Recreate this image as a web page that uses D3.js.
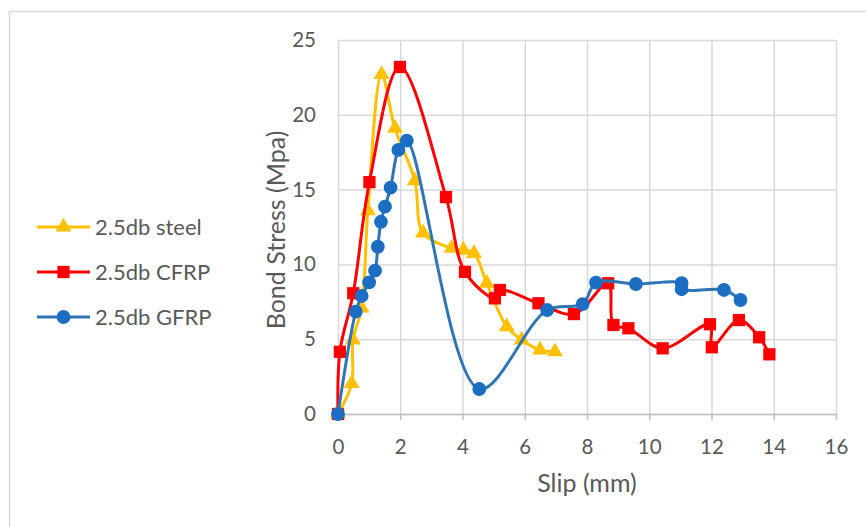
<!DOCTYPE html>
<html>
<head>
<meta charset="utf-8">
<script src="https://cdn.jsdelivr.net/npm/d3@7"></script>
<style>
  body { margin: 0; background: #fff; }
  text { font-family: Lato, "Open Sans", sans-serif; fill: #595959; }
</style>
</head>
<body>
<svg id="chart" width="866" height="527"></svg>
<script>
// series (slip mm, bond stress MPa)
const steelSlip   = [0, 0.44, 0.48, 0.76, 0.96, 1.40, 1.83, 2.47, 2.73, 3.65, 4.03, 4.37, 4.78, 5.42, 5.90, 6.49, 6.97];
const steelStress = [0, 2.05, 4.95, 7.09, 13.6, 22.7, 19.1, 15.6, 12.1, 11.08, 10.96, 10.74, 8.74, 5.84, 4.95, 4.28, 4.17];

const cfrpSlip   = [0, 0.06, 0.49, 1.01, 1.99, 3.47, 4.08, 5.04, 5.20, 6.44, 7.58, 8.68, 8.85, 9.33, 10.43, 11.95, 12.01, 12.88, 13.53, 13.86];
const cfrpStress = [0, 4.16, 8.07, 15.5, 23.2, 14.5, 9.5, 7.73, 8.29, 7.4, 6.68, 8.74, 5.95, 5.73, 4.39, 6.0, 4.46, 6.28, 5.13, 3.99];

const gfrpSlip   = [0, 0.57, 0.76, 1.00, 1.19, 1.28, 1.38, 1.51, 1.69, 1.94, 2.21, 4.54, 6.72, 7.86, 8.29, 9.57, 11.04, 11.04, 12.40, 12.93];
const gfrpStress = [0, 6.84, 7.89, 8.8, 9.58, 11.18, 12.85, 13.86, 15.13, 17.65, 18.27, 1.67, 6.95, 7.35, 8.78, 8.69, 8.74, 8.34, 8.29, 7.62];

const xTicks = [0, 2, 4, 6, 8, 10, 12, 14, 16];
const yTicks = [0, 5, 10, 15, 20, 25];
const seriesNames = ["2.5db steel", "2.5db CFRP", "2.5db GFRP"];

const svg = d3.select("#chart");
const margins = {top: 40, right: 30, bottom: 113, left: 338};
const plotW = 866 - margins.left - margins.right;   // 0..16
const plotH = 527 - margins.top - margins.bottom;   // 25..0

// outer chart border
svg.append("rect")
   .attr("x", 9.5).attr("y", 11.5)
   .attr("width", 870).attr("height", 530)
   .attr("fill", "none").attr("stroke", "#d9d9d9").attr("stroke-width", 1.5);

const scaleSlip = d3.scaleLinear().domain([0, 16]).range([0, plotW]);
const scaleStress = d3.scaleLinear().domain([0, 25]).range([plotH, 0]);

const chartArea = svg.append("g")
   .attr("transform", `translate(${margins.left},${margins.top})`);

// gridlines
chartArea.append("g").attr("class", "gridlines")
   .call(d3.axisLeft(scaleStress).tickValues(yTicks).tickSize(-plotW).tickFormat(""))
   .call(g => g.select(".domain").remove())
   .call(g => g.selectAll("line").attr("stroke", "#d9d9d9").attr("stroke-width", 1.5));
chartArea.append("g").attr("class", "gridlines")
   .call(d3.axisBottom(scaleSlip).tickValues(xTicks).tickSize(plotH).tickFormat(""))
   .call(g => g.select(".domain").remove())
   .call(g => g.selectAll("line").attr("stroke", "#d9d9d9").attr("stroke-width", 1.5));

// x axis
chartArea.append("g")
   .attr("transform", `translate(0,${plotH})`)
   .call(d3.axisBottom(scaleSlip).tickValues(xTicks).tickSize(6).tickSizeOuter(0).tickPadding(19))
   .call(g => g.select(".domain").attr("stroke", "#bfbfbf").attr("stroke-width", 1.5))
   .call(g => g.selectAll(".tick line").attr("stroke", "#bfbfbf").attr("stroke-width", 1.5))
   .call(g => g.selectAll("text").attr("font-size", 20.5).attr("fill", "#404040")
               .style("font-family", "Lato, sans-serif"));

// y axis labels
chartArea.append("g")
   .call(d3.axisLeft(scaleStress).tickValues(yTicks).tickSize(0).tickPadding(22))
   .call(g => g.select(".domain").remove())
   .call(g => g.selectAll("text").attr("font-size", 20.5).attr("fill", "#404040")
               .style("font-family", "Lato, sans-serif"));

// axis titles
svg.append("text")
   .attr("x", margins.left + scaleSlip(8)).attr("y", 492)
   .attr("text-anchor", "middle").attr("font-size", 25).attr("fill", "#404040")
   .text("Slip (mm)");
svg.append("text")
   .attr("transform", `translate(285,${margins.top + scaleStress(12.3)}) rotate(-90)`)
   .attr("text-anchor", "middle").attr("font-size", 25).attr("fill", "#404040")
   .text("Bond Stress (Mpa)");

const series = [
  {name: seriesNames[0], xs: steelSlip, ys: steelStress, line: "#FFC000", fill: "#FFC000", marker: "triangle"},
  {name: seriesNames[1], xs: cfrpSlip, ys: cfrpStress, line: "#FF0000", fill: "#FF0000", marker: "square"},
  {name: seriesNames[2], xs: gfrpSlip, ys: gfrpStress, line: "#2E75B6", fill: "#1B6EC2", marker: "circle"}
];

const symbolFor = {
  triangle: d3.symbol().type(d3.symbolTriangle).size(110),
  square: d3.symbol().type(d3.symbolSquare).size(150),
  circle: d3.symbol().type(d3.symbolCircle).size(150)
};

const lineGen = d3.line()
   .x(d => scaleSlip(d[0]))
   .y(d => scaleStress(d[1]))
   .curve(d3.curveCatmullRom.alpha(0.5));

series.forEach(s => {
  const pts = s.xs.map((x, i) => [x, s.ys[i]]);
  const g = chartArea.append("g").attr("class", "series");
  g.append("path")
   .attr("d", lineGen(pts))
   .attr("fill", "none").attr("stroke", s.line).attr("stroke-width", 3)
   .attr("stroke-linejoin", "round");
  g.selectAll("path.marker")
   .data(pts)
   .join("path")
   .attr("class", "marker")
   .attr("transform", d => `translate(${scaleSlip(d[0])},${scaleStress(d[1])})`)
   .attr("d", symbolFor[s.marker]())
   .attr("fill", s.fill);
});

// legend
const legend = svg.append("g").attr("class", "legend");
const legendY = [227, 272, 317];
series.forEach((s, i) => {
  const row = legend.append("g").attr("transform", `translate(37,${legendY[i]})`);
  row.append("line").attr("x1", 0).attr("x2", 53).attr("y1", 0).attr("y2", 0)
     .attr("stroke", s.line).attr("stroke-width", 3);
  row.append("path").attr("transform", "translate(26.5,0)")
     .attr("d", symbolFor[s.marker]()).attr("fill", s.fill);
  row.append("text").attr("x", 58).attr("y", 0).attr("dy", "0.35em")
     .attr("font-size", 22).attr("fill", "#595959").text(s.name);
});
</script>
</body>
</html>
